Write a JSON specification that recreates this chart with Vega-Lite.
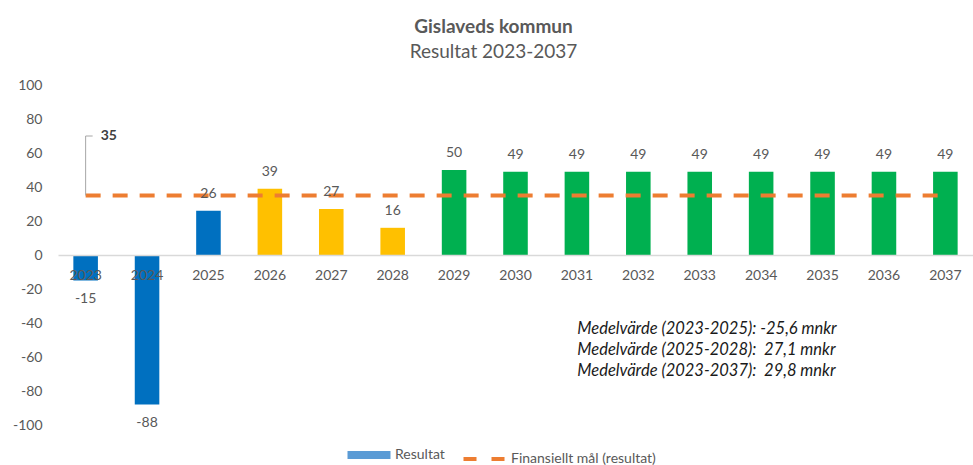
{
  "$schema": "https://vega.github.io/schema/vega-lite/v6.json",
  "width": 915,
  "height": 340,
  "autosize": {"type": "none"},
  "padding": {"left": 58, "top": 85, "right": 0, "bottom": 40},
  "background": "white",
  "config": {
    "view": {"stroke": null},
    "font": "Lato",
    "axis": {"labelOverlap": false},
    "locale": {"number": {"decimal": ",", "thousands": " ", "grouping": [3], "currency": ["", " kr"], "minus": "-"}}
  },
  "title": {
    "text": "Gislaveds kommun",
    "subtitle": "Resultat 2023-2037",
    "fontSize": 19,
    "fontWeight": "bold",
    "color": "#595959",
    "subtitleFontSize": 19,
    "subtitleColor": "#595959",
    "subtitlePadding": 6,
    "anchor": "middle",
    "dx": -22,
    "offset": 16,
    "font": "Lato",
    "subtitleFont": "Lato"
  },
  "datasets": {
    "res": [
      {"ar": "2023", "resultat": -15, "fas": "A"},
      {"ar": "2024", "resultat": -88, "fas": "A"},
      {"ar": "2025", "resultat": 26, "fas": "A"},
      {"ar": "2026", "resultat": 39, "fas": "B"},
      {"ar": "2027", "resultat": 27, "fas": "B"},
      {"ar": "2028", "resultat": 16, "fas": "B"},
      {"ar": "2029", "resultat": 50, "fas": "C"},
      {"ar": "2030", "resultat": 49, "fas": "C"},
      {"ar": "2031", "resultat": 49, "fas": "C"},
      {"ar": "2032", "resultat": 49, "fas": "C"},
      {"ar": "2033", "resultat": 49, "fas": "C"},
      {"ar": "2034", "resultat": 49, "fas": "C"},
      {"ar": "2035", "resultat": 49, "fas": "C"},
      {"ar": "2036", "resultat": 49, "fas": "C"},
      {"ar": "2037", "resultat": 49, "fas": "C"}
    ],
    "mal": [
      {"ar": "2023", "mal": 35, "serie": "Finansiellt mål (resultat)"},
      {"ar": "2024", "mal": 35, "serie": "Finansiellt mål (resultat)"},
      {"ar": "2025", "mal": 35, "serie": "Finansiellt mål (resultat)"},
      {"ar": "2026", "mal": 35, "serie": "Finansiellt mål (resultat)"},
      {"ar": "2027", "mal": 35, "serie": "Finansiellt mål (resultat)"},
      {"ar": "2028", "mal": 35, "serie": "Finansiellt mål (resultat)"},
      {"ar": "2029", "mal": 35, "serie": "Finansiellt mål (resultat)"},
      {"ar": "2030", "mal": 35, "serie": "Finansiellt mål (resultat)"},
      {"ar": "2031", "mal": 35, "serie": "Finansiellt mål (resultat)"},
      {"ar": "2032", "mal": 35, "serie": "Finansiellt mål (resultat)"},
      {"ar": "2033", "mal": 35, "serie": "Finansiellt mål (resultat)"},
      {"ar": "2034", "mal": 35, "serie": "Finansiellt mål (resultat)"},
      {"ar": "2035", "mal": 35, "serie": "Finansiellt mål (resultat)"},
      {"ar": "2036", "mal": 35, "serie": "Finansiellt mål (resultat)"},
      {"ar": "2037", "mal": 35, "serie": "Finansiellt mål (resultat)"}
    ],
    "callout": [
      {"ar": "2023", "y1": 35, "y2": 70, "label": "35"}
    ],
    "notes": [
      {"ar": "2032", "y": -43.5, "text": "Medelvärde (2023-2025): -25,6 mnkr"},
      {"ar": "2032", "y": -55.9, "text": "Medelvärde (2025-2028):  \u00a027,1 mnkr"},
      {"ar": "2032", "y": -68.2, "text": "Medelvärde (2023-2037):  \u00a029,8 mnkr"}
    ]
  },
  "encoding": {
    "x": {
      "field": "ar",
      "type": "nominal",
      "sort": null,
      "scale": {"paddingInner": 0.6, "paddingOuter": 0.25},
      "axis": {
        "title": null,
        "orient": "bottom",
        "offset": -170,
        "labelAngle": 0,
        "labelFontSize": 14,
        "labelColor": "#595959",
        "labelPadding": 13,
        "ticks": false,
        "tickSize": 0,
        "domainColor": "#D9D9D9",
        "domainWidth": 1.5,
        "zindex": 1
      }
    }
  },
  "layer": [
    {
      "data": {"name": "res"},
      "mark": {"type": "bar"},
      "encoding": {
        "y": {
          "field": "resultat",
          "type": "quantitative",
          "scale": {"domain": [-100, 100], "nice": false},
          "axis": {
            "title": null,
            "values": [-100, -80, -60, -40, -20, 0, 20, 40, 60, 80, 100],
            "tickCount": 11,
            "format": "d",
            "labelOverlap": false,
            "grid": false,
            "domain": false,
            "ticks": false,
            "tickSize": 0,
            "labelPadding": 16,
            "labelFontSize": 14,
            "labelColor": "#595959"
          }
        },
        "fill": {
          "field": "fas",
          "type": "nominal",
          "scale": {"domain": ["A", "B", "C"], "range": ["#0070C0", "#FFC000", "#00B050"]},
          "legend": null
        }
      }
    },
    {
      "data": {"name": "mal"},
      "mark": {"type": "line", "strokeDash": [15, 12], "strokeWidth": 4, "strokeCap": "butt"},
      "encoding": {
        "y": {"field": "mal", "type": "quantitative"},
        "stroke": {
          "field": "serie",
          "type": "nominal",
          "scale": {"domain": ["Resultat", "Finansiellt mål (resultat)"], "range": ["#5B9BD5", "#ED7D31"]},
          "legend": {
            "title": null,
            "orient": "none",
            "legendX": 304,
            "legendY": 363,
            "direction": "horizontal",
            "symbolType": "stroke",
            "symbolSize": 1849,
            "symbolStrokeWidth": 4,
            "labelFontSize": 14,
            "labelColor": "#595959",
            "labelOffset": 19,
            "columnPadding": 10,
            "encode": {
              "symbols": {
                "update": {
                  "strokeWidth": {"signal": "datum.value === 'Resultat' ? 8 : 4"},
                  "strokeDash": {"signal": "datum.value === 'Resultat' ? [1, 0] : [13, 15]"},
                  "strokeCap": {"value": "butt"}
                }
              }
            }
          }
        }
      }
    },
    {
      "data": {"name": "res"},
      "transform": [{"filter": "datum.resultat >= 0"}],
      "mark": {"type": "text", "baseline": "middle", "dy": -17, "fontSize": 14, "color": "#595959"},
      "encoding": {
        "y": {"field": "resultat", "type": "quantitative"},
        "text": {"field": "resultat", "type": "nominal"}
      }
    },
    {
      "data": {"name": "res"},
      "transform": [{"filter": "datum.resultat < 0"}],
      "mark": {"type": "text", "baseline": "middle", "dy": 18, "fontSize": 14, "color": "#595959"},
      "encoding": {
        "y": {"field": "resultat", "type": "quantitative"},
        "text": {"field": "resultat", "type": "nominal"}
      }
    },
    {
      "data": {"name": "callout"},
      "mark": {"type": "rule", "color": "#A6A6A6", "strokeWidth": 1},
      "encoding": {
        "y": {"field": "y1", "type": "quantitative"},
        "y2": {"field": "y2"}
      }
    },
    {
      "data": {"name": "callout"},
      "mark": {"type": "rule", "color": "#A6A6A6", "strokeWidth": 1, "x2Offset": 7},
      "encoding": {
        "x2": {"field": "ar"},
        "y": {"field": "y2", "type": "quantitative"}
      }
    },
    {
      "data": {"name": "callout"},
      "mark": {"type": "text", "align": "left", "baseline": "middle", "dx": 15, "fontSize": 14, "fontWeight": "bold", "color": "#404040"},
      "encoding": {
        "y": {"field": "y2", "type": "quantitative"},
        "text": {"field": "label"}
      }
    },
    {
      "data": {"name": "notes"},
      "mark": {"type": "text", "align": "left", "baseline": "middle", "dx": -61, "fontSize": 16.5, "fontStyle": "italic", "color": "#1a1a1a"},
      "encoding": {
        "y": {"field": "y", "type": "quantitative"},
        "text": {"field": "text"}
      }
    }
  ]
}
